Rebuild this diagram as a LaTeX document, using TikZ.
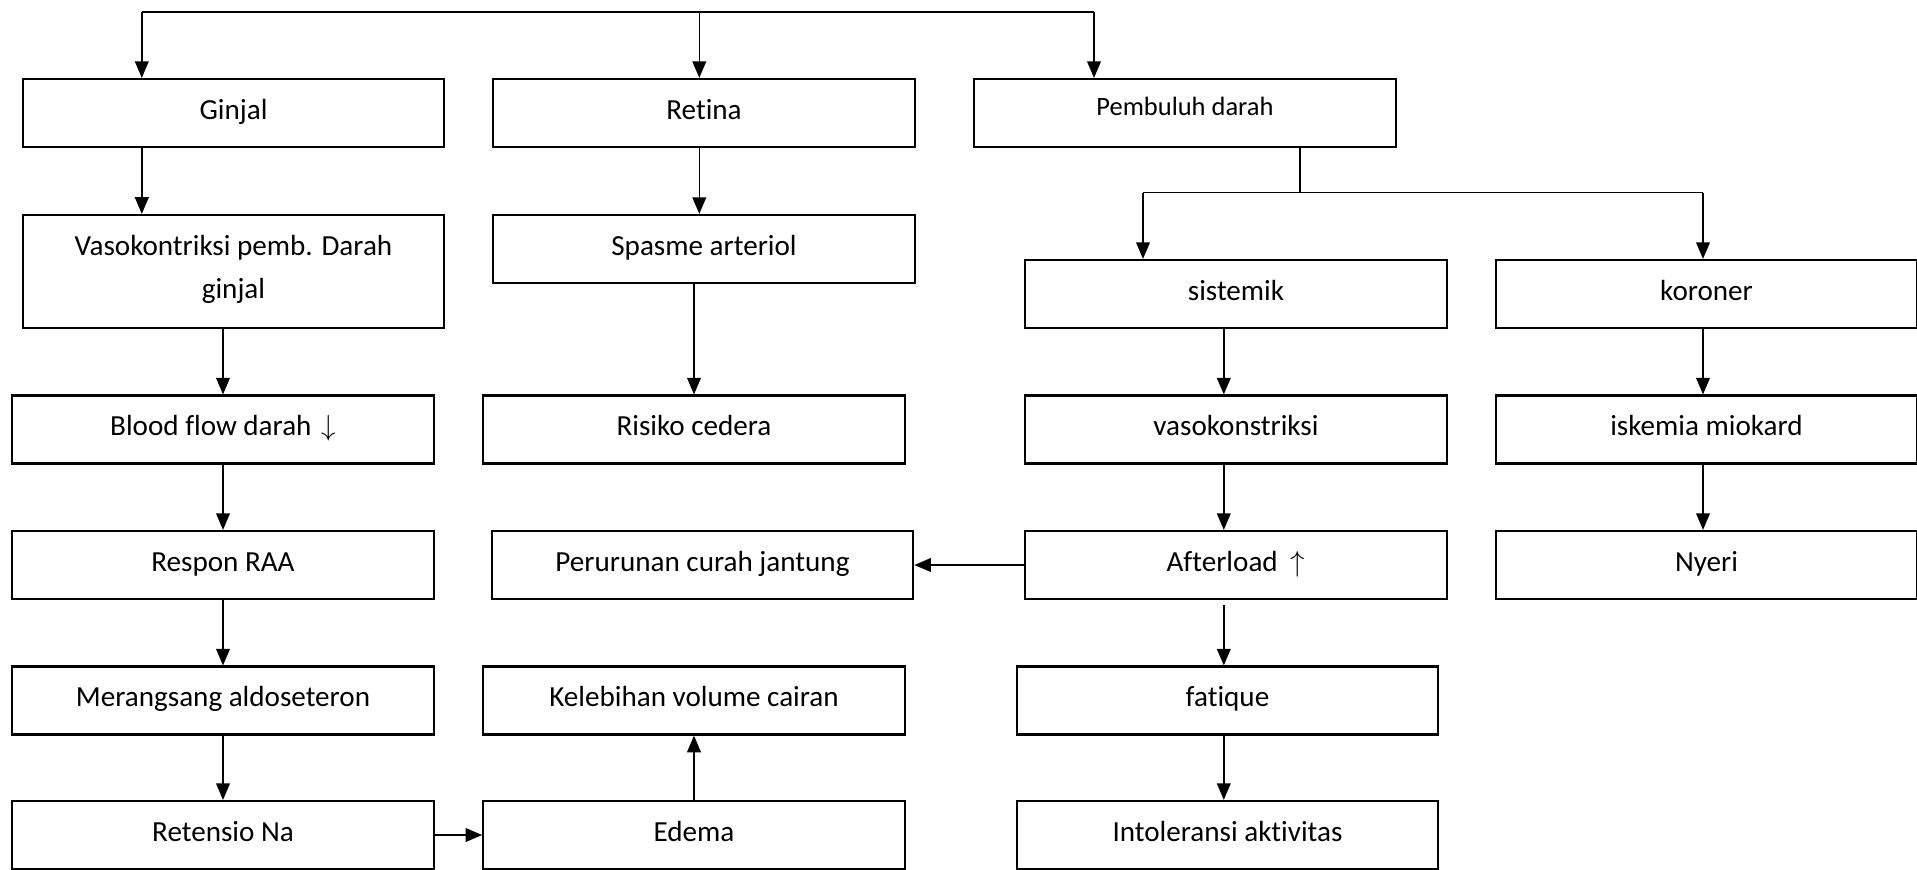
\documentclass[tikz,border=0pt]{standalone}
\usepackage{fontspec}
\setmainfont[Ligatures=NoCommon]{Carlito}
\usetikzlibrary{arrows.meta}

\begin{document}
\begin{tikzpicture}[x=0.3777pt, y=-0.3777pt, font=\fontsize{11}{15}\selectfont]
\tikzstyle{box}=[rectangle, draw, line width=0.8pt, minimum width=159.2pt, minimum height=25.7pt, inner sep=0pt, align=center, text height=7.5pt, text depth=2.7pt]
\tikzstyle{tallbox}=[rectangle, draw, line width=0.8pt, minimum width=159.2pt, minimum height=42.7pt, inner sep=0pt, align=center]
\tikzstyle{arr}=[line width=0.6pt, -{Triangle[length=6.3pt,width=5.2pt]}]
\useasboundingbox (0,0) rectangle (1917,869);
% kolom kiri: ginjal
\node[box] (ginjal) at (233.5,113) {Ginjal};
\node[tallbox, font=\fontsize{11}{16.2}\selectfont] (vaso) at (233.5,271.5) {Vasokontriksi pemb. Darah\\ginjal\rule[-3.2pt]{0pt}{3.2pt}};
\node[box] (blood) at (223,429.5) {Blood flow darah\hspace{1.2pt} $\downarrow$};
\node[box] (respon) at (223,565) {Respon RAA};
\node[box] (merangsang) at (223,700.5) {Merangsang aldoseteron};
\node[box] (retensio) at (223,835) {Retensio Na};
% kolom tengah: retina
\node[box] (retina) at (704,113) {Retina};
\node[box] (spasme) at (704,249) {Spasme arteriol};
\node[box] (risiko) at (694,429.5) {Risiko cedera};
\node[box] (perurunan) at (702.5,565) {Perurunan curah jantung};
\node[box] (kelebihan) at (694,700.5) {Kelebihan volume cairan};
\node[box] (edema) at (694,835) {Edema};
% kolom kanan: pembuluh darah
\node[box, font=\fontsize{10}{12}\selectfont, text height=7pt, text depth=5pt] (pembuluh) at (1185,113) {Pembuluh darah};
\node[box] (sistemik) at (1236,294) {sistemik};
\node[box] (vasok) at (1236,429.5) {vasokonstriksi};
\node[box] (afterload) at (1236,565) {Afterload \ $\uparrow$};
\node[box] (fatique) at (1227.5,700.5) {fatique};
\node[box] (intoleransi) at (1227.5,835) {Intoleransi aktivitas};
\node[box] (koroner) at (1706.5,294) {koroner};
\node[box] (iskemia) at (1706.5,429.5) {iskemia miokard};
\node[box] (nyeri) at (1706.5,565) {Nyeri};
% titik cabang
\coordinate (t1) at (141.8,12);
\coordinate (t2) at (699.3,12);
\coordinate (t3) at (1094,12);
\coordinate (p) at (1300,192.5);
\coordinate (s1) at (1143,192.5);
\coordinate (s2) at (1703,192.5);
\coordinate (c3) at (1223.8,0);
% panah
\draw[line width=0.6pt] (t1) -- (t3);
\draw[arr] (t1) -- (t1 |- ginjal.north);
\draw[arr] (t2) -- (t2 |- retina.north);
\draw[arr] (t3) -- (t3 |- pembuluh.north);
\draw[arr] (t1 |- ginjal.south) -- (t1 |- vaso.north);
\draw[arr] (t2 |- retina.south) -- (t2 |- spasme.north);
\draw[line width=0.6pt] (p |- pembuluh.south) -- (p);
\draw[line width=0.6pt] (s1) -- (s2);
\draw[arr] (s1) -- (s1 |- sistemik.north);
\draw[arr] (s2) -- (s2 |- koroner.north);
\draw[arr] (vaso.south -| blood.north) -- (blood.north);
\draw[arr] (blood) -- (respon);
\draw[arr] (respon) -- (merangsang);
\draw[arr] (merangsang) -- (retensio);
\draw[arr] (retensio) -- (edema);
\draw[arr] (edema) -- (kelebihan);
\draw[arr] (spasme.south -| risiko.north) -- (risiko.north);
\draw[arr] (c3 |- sistemik.south) -- (c3 |- vasok.north);
\draw[arr] (c3 |- vasok.south) -- (c3 |- afterload.north);
\draw[arr] ([yshift=-2pt]c3 |- afterload.south) -- (c3 |- fatique.north);
\draw[arr] (c3 |- fatique.south) -- (c3 |- intoleransi.north);
\draw[arr] (afterload) -- (perurunan);
\draw[arr] (s2 |- koroner.south) -- (s2 |- iskemia.north);
\draw[arr] (s2 |- iskemia.south) -- (s2 |- nyeri.north);
\end{tikzpicture}
\end{document}
